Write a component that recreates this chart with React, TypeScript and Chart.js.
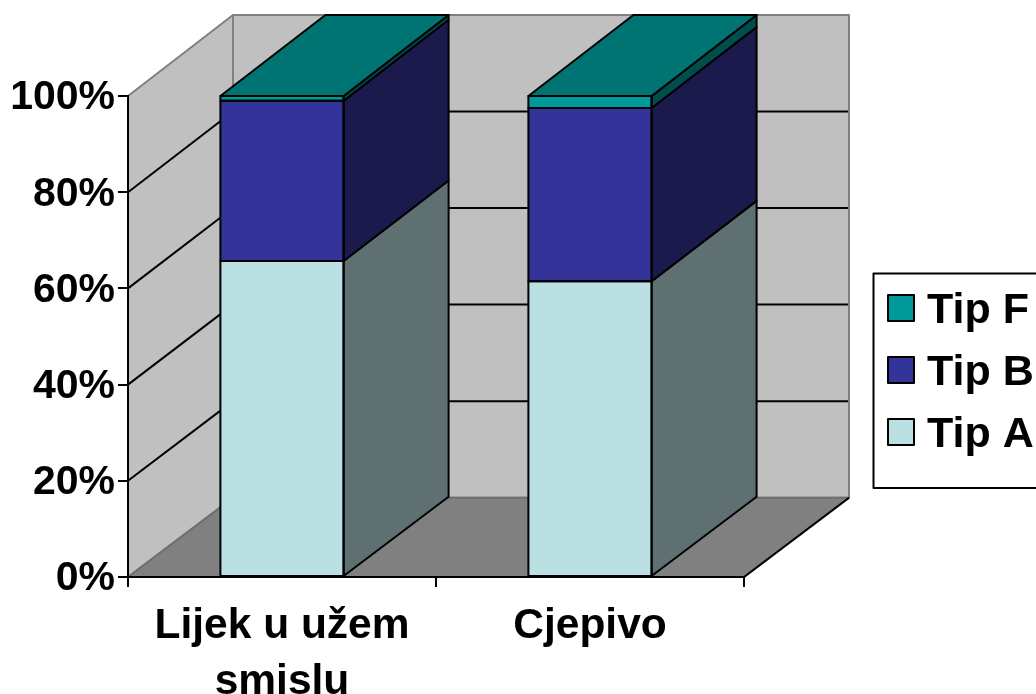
import React, { useEffect, useRef } from "react";
import { Chart, registerables } from "chart.js";

Chart.register(...registerables);

const categories = [["Lijek u užem", "smislu"], ["Cjepivo"]];
const tipA = [65.7, 61.5];
const tipB = [33.3, 36];
const tipF = [1, 2.5];

const FAMILY = "'Liberation Sans', Arial, sans-serif";
const DX = 105;
const backY = (y: number) => 15 + (y - 96) * (482.7 / 481);

function poly(ctx: CanvasRenderingContext2D, pts: number[][], fill: string | null, stroke: string | null, lw = 2) {
  ctx.beginPath();
  pts.forEach((p, i) => (i ? ctx.lineTo(p[0], p[1]) : ctx.moveTo(p[0], p[1])));
  ctx.closePath();
  if (fill) {
    ctx.fillStyle = fill;
    ctx.fill();
  }
  if (stroke) {
    ctx.strokeStyle = stroke;
    ctx.lineWidth = lw;
    ctx.lineJoin = "round";
    ctx.stroke();
  }
}

function line(ctx: CanvasRenderingContext2D, x1: number, y1: number, x2: number, y2: number, c: string, lw = 2) {
  ctx.beginPath();
  ctx.moveTo(x1, y1);
  ctx.lineTo(x2, y2);
  ctx.strokeStyle = c;
  ctx.lineWidth = lw;
  ctx.stroke();
}

const box3d = {
  id: "box3d",
  beforeDraw(chart: any) {
    const { ctx, chartArea: a, scales } = chart;
    const { left: l, right: r, top: t, bottom: b } = a;
    ctx.save();
    poly(ctx, [[l, t], [l + DX, backY(t)], [l + DX, backY(b)], [l, b]], "#c0c0c0", "#808080");
    poly(ctx, [[l + DX, backY(t)], [r + DX, backY(t)], [r + DX, backY(b)], [l + DX, backY(b)]], "#c0c0c0", "#808080");
    poly(ctx, [[l, b], [l + DX, backY(b)], [r + DX, backY(b)], [r, b]], "#808080", "#6e6e6e");
    line(ctx, r, b, r + DX, backY(b), "#000");
    for (const tick of scales.y.ticks) {
      if (tick.value === 0 || tick.value === 100) continue;
      const y = scales.y.getPixelForValue(tick.value);
      line(ctx, l, y, l + DX, backY(y), "#000");
      line(ctx, l + DX, backY(y), r + DX - 1, backY(y), "#000");
    }
    ctx.restore();
  },
  afterDatasetsDraw(chart: any) {
    const { ctx } = chart;
    ctx.save();
    const n = chart.data.datasets.length;
    chart.data.datasets.forEach((ds: any, i: number) => {
      chart.getDatasetMeta(i).data.forEach((bar: any) => {
        const p = bar.getProps(["x", "y", "base", "width"], true);
        const L = p.x - p.width / 2;
        const R = p.x + p.width / 2;
        poly(ctx, [[R, p.base], [R + DX, backY(p.base)], [R + DX, backY(p.y)], [R, p.y]], ds.sideColor, "#000");
        if (i === n - 1) {
          poly(ctx, [[L, p.y], [L + DX, backY(p.y)], [R + DX, backY(p.y)], [R, p.y]], ds.topColor, "#000");
        }
        poly(ctx, [[L, p.y], [R, p.y], [R, p.base], [L, p.base]], null, "#000");
      });
    });
    // legend
    poly(ctx, [[873.5, 273.5], [1040, 273.5], [1040, 488], [873.5, 488]], "#fff", "#000");
    ctx.font = `bold 43px ${FAMILY}`;
    ctx.textBaseline = "alphabetic";
    ctx.textAlign = "left";
    [...chart.data.datasets].reverse().forEach((ds: any, i: number) => {
      const y = 295 + i * 62;
      poly(ctx, [[888, y], [914, y], [914, y + 26], [888, y + 26]], ds.backgroundColor, "#000");
      ctx.fillStyle = "#000";
      ctx.fillText(ds.label, 927, y + 28);
    });
    ctx.restore();
  },
};

export default function App() {
  const ref = useRef<HTMLCanvasElement>(null);
  useEffect(() => {
    const chart = new Chart(ref.current!, {
      type: "bar",
      data: {
        labels: categories,
        datasets: [
          { label: "Tip A", data: tipA, backgroundColor: "#bbe0e3", sideColor: "#5e7071" },
          { label: "Tip B", data: tipB, backgroundColor: "#333399", sideColor: "#1a1a4d" },
          { label: "Tip F", data: tipF, backgroundColor: "#009999", sideColor: "#004d4d", topColor: "#007373" },
        ] as any,
      },
      options: {
        animation: false,
        responsive: false,
        layout: { padding: { top: 96, right: 292, left: 0, bottom: 0 } },
        elements: { bar: { borderWidth: 0 } },
        datasets: { bar: { barPercentage: 0.4, categoryPercentage: 1 } },
        plugins: { legend: { display: false }, tooltip: { enabled: false } },
        scales: {
          x: {
            stacked: true,
            afterFit: (s: any) => { s.height = 117; },
            grid: { drawOnChartArea: false, tickLength: 10, color: "#000", lineWidth: 2 },
            border: { color: "#000", width: 2 },
            ticks: { color: "#000", maxRotation: 0, autoSkip: false, padding: 11, font: { family: FAMILY, size: 42.5, weight: "bold", lineHeight: 1.32 } },
          },
          y: {
            stacked: true,
            min: 0,
            max: 100,
            afterFit: (s: any) => { s.width = 128; },
            grid: { drawOnChartArea: false, tickLength: 10, color: "#000", lineWidth: 2 },
            border: { color: "#000", width: 2 },
            ticks: { stepSize: 20, color: "#000", padding: 3, labelOffset: 2, callback: (v: any) => v + "%", font: { family: FAMILY, size: 41, weight: "bold" } },
          },
        },
      },
      plugins: [box3d],
    } as any);
    return () => chart.destroy();
  }, []);
  return (
    <canvas
      ref={ref}
      width={1036}
      height={694}
      style={{ position: "absolute", left: 0, top: 0, display: "block", width: 1036, height: 694 }}
    />
  );
}
